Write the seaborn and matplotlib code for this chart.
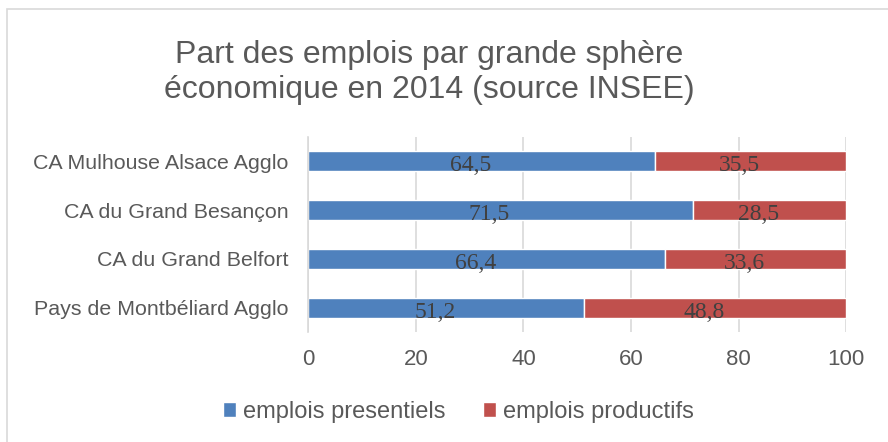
import matplotlib
matplotlib.use('Agg')
import matplotlib.pyplot as plt
import seaborn as sns
import pandas as pd
from matplotlib.patches import Rectangle

# data
territoires = [
    "CA Mulhouse Alsace Agglo",
    "CA du Grand Besançon",
    "CA du Grand Belfort",
    "Pays de Montbéliard Agglo",
]
presentiels = [64.5, 71.5, 66.4, 51.2]
productifs = [35.5, 28.5, 33.6, 48.8]
series_names = ["emplois presentiels", "emplois productifs"]
x_ticks = [0, 20, 40, 60, 80, 100]

BLUE = "#4F81BD"
RED = "#C0504D"
TEXT = "#595959"
GRID = "#D9D9D9"

sns.set_theme(style="white")
plt.rcParams['font.family'] = ['Liberation Sans', 'DejaVu Sans']

df = pd.DataFrame({"territoire": territoires,
                   "presentiels": presentiels,
                   "productifs": productifs})

fig = plt.figure(figsize=(8.88, 4.42), dpi=100)
ax = fig.add_axes([0.347, 0.248, 0.606, 0.443])

sns.barplot(data=df, y="territoire", x="presentiels", color=BLUE,
            width=0.41, saturation=1, ax=ax, label=series_names[0])
ax.barh(range(len(df)), df["productifs"], left=df["presentiels"],
        height=0.41, color=RED, label=series_names[1])
if ax.get_legend() is not None:
    ax.get_legend().remove()

# segment labels (decimal comma)
for i, (a, b) in enumerate(zip(presentiels, productifs)):
    for left, v in ((0, a), (a, b)):
        ax.annotate(f"{v:.1f}".replace(".", ","), xy=(left + v / 2, i),
                    xytext=(-8, -3), textcoords="offset points",
                    ha="center", va="center", fontsize=17,
                    family="Liberation Serif", color="#404040")

ax.set_xlim(0, 100)
ax.set_ylim(3.5, -0.5)
ax.set_xticks(x_ticks)
ax.set_xlabel("")
ax.set_ylabel("")
ax.grid(axis="x", color=GRID, linewidth=1.2)
ax.set_axisbelow(True)
for s in ["top", "right", "bottom"]:
    ax.spines[s].set_visible(False)
ax.spines["left"].set_color(GRID)
ax.spines["left"].set_linewidth(1.2)
ax.tick_params(axis="x", length=0, pad=12, labelsize=16, labelcolor=TEXT)
ax.tick_params(axis="y", length=0, pad=14, labelsize=15.4, labelcolor=TEXT)

fig.text(0.483, 0.836, "Part des emplois par grande sphère\néconomique en 2014 (source INSEE)",
         ha="center", va="center", fontsize=23, color=TEXT, linespacing=1.2)

handles, labels = ax.get_legend_handles_labels()
fig.legend(handles, labels, loc="center", bbox_to_anchor=(0.516, 0.068),
           ncol=2, frameon=False, fontsize=17, labelcolor=TEXT,
           handlelength=0.55, handleheight=0.55, handletextpad=0.3,
           columnspacing=1.6)

# chart area border
fig.patches.append(Rectangle((7 / 888, -0.1), 1.2, 1 - 9 / 442 + 0.1,
                             transform=fig.transFigure, fill=False,
                             edgecolor=GRID, linewidth=1.2))

fig.savefig("out.png", dpi=100)
